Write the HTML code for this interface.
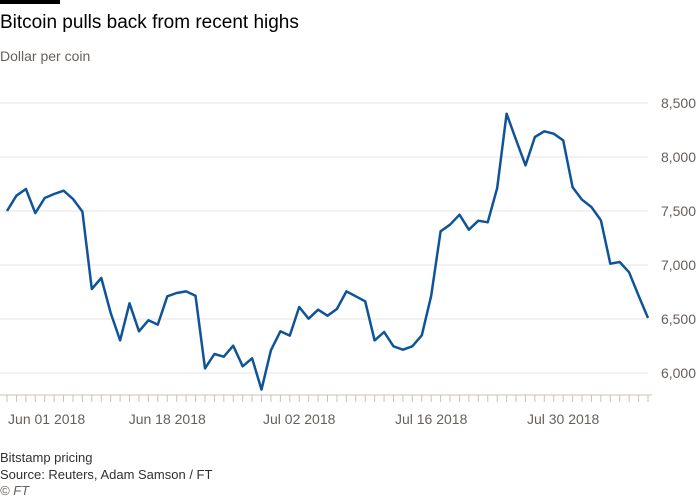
<!DOCTYPE html>
<html><head><meta charset="utf-8"><style>
body{margin:0;background:#fff;font-family:"Liberation Sans",sans-serif;}
#wrap{position:relative;width:700px;height:500px;overflow:hidden;}
.t{position:absolute;left:0;white-space:nowrap;}
</style></head><body>
<div id="wrap">
<div style="position:absolute;left:0;top:0;width:60px;height:4px;background:#000"></div>
<div class="t" style="top:12px;font-size:19px;color:#000">Bitcoin pulls back from recent highs</div>
<div class="t" style="top:48px;font-size:14px;color:#66605c">Dollar per coin</div>
<svg id="svg" width="700" height="500" style="position:absolute;left:0;top:0"></svg>
<div class="t" style="top:450px;font-size:13px;color:#33302e">Bitstamp pricing</div>
<div class="t" style="top:467px;font-size:13px;color:#33302e">Source: Reuters, Adam Samson / FT</div>
<div class="t" style="top:483px;font-size:13px;color:#66605c;font-style:italic">© FT</div>
</div>
<script>
const values=[7500,7642,7704,7481,7620,7657,7688,7611,7494,6778,6880,6556,6302,6645,6386,6488,6448,6710,6741,6756,6716,6043,6176,6151,6253,6062,6136,5846,6210,6386,6346,6611,6503,6586,6531,6593,6756,6710,6664,6302,6380,6247,6216,6247,6349,6716,7312,7373,7466,7327,7410,7395,7713,8401,8160,7923,8185,8238,8216,8154,7719,7605,7537,7414,7012,7028,6932,6716,6509];
const yTicks=[6000,6500,7000,7500,8000,8500];
const yTickLabels=["6,000","6,500","7,000","7,500","8,000","8,500"];
const xLabels=["Jun 01 2018","Jun 18 2018","Jul 02 2018","Jul 16 2018","Jul 30 2018"];
const xLabelIdx=[4.2,17,31,45,59];
const NS="http://www.w3.org/2000/svg";
const svg=document.getElementById('svg');
const x0=7,dx=(648-7)/(values.length-1);
const X=i=>x0+i*dx;
const Y=v=>103+(8500-v)*54/500;
function mk(t,a){const e=document.createElementNS(NS,t);for(const k in a)e.setAttribute(k,a[k]);svg.appendChild(e);return e;}
yTicks.forEach((v,i)=>{
 const l=mk('line',{x1:0,x2:648,y1:Y(v),y2:Y(v),stroke:'#e9e5e1','stroke-width':1});
 
 
 const t=mk('text',{x:696,y:Y(v)+5,'text-anchor':'end','font-size':14,fill:'#66605c','font-family':'Liberation Sans'});
 t.textContent=yTickLabels[i];
 
 
});
const base=395;
const ax=mk('line',{x1:0,x2:652,y1:base,y2:base,stroke:'#ccc1b7'});


values.forEach((v,i)=>{
 const tk=mk('line',{x1:X(i),x2:X(i),y1:base,y2:base+7,stroke:'#ccc1b7'});
 
 
});
xLabels.forEach((s,i)=>{
 const t=mk('text',{x:X(xLabelIdx[i]),y:424,'text-anchor':'middle','font-size':14,fill:'#66605c','font-family':'Liberation Sans'});
 t.textContent=s;
 
 
});
const p=mk('path',{d:values.map((v,i)=>(i?'L':'M')+X(i).toFixed(1)+' '+Y(v).toFixed(1)).join(''),fill:'none',stroke:'#0f5499','stroke-width':2.5,'stroke-linejoin':'round'});


</script>
</body></html>
